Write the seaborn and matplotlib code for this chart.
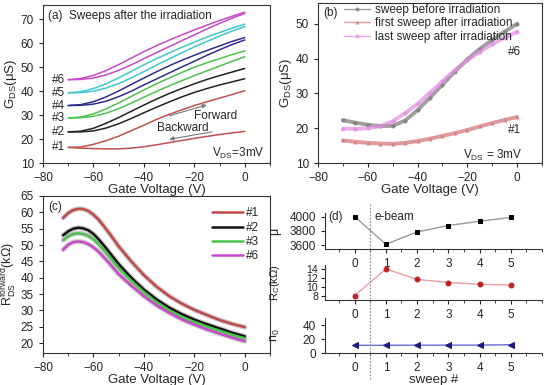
import numpy as np
import pandas as pd
import seaborn as sns
import matplotlib.pyplot as plt
from matplotlib.ticker import MultipleLocator

# ---- data ----
# (a) G_DS vs gate voltage, two sweeps per run
vg_a = [-70, -65, -60, -55, -50, -45, -40, -35, -30, -25, -20, -15, -10, -5, 0]
g1_up = [16.5, 16.7, 17.8, 19.3, 21.2, 23.5, 25.8, 28.2, 30.3, 32.2, 34.0, 35.6, 37.1, 38.6, 40.2]
g1_lo = [16.5, 16.2, 16.0, 15.9, 15.9, 16.2, 16.8, 17.6, 18.5, 19.4, 20.3, 21.1, 21.9, 22.6, 23.2]
g2_lo = [23.0, 23.0, 23.4, 24.6, 26.4, 28.6, 31.0, 33.3, 35.5, 37.6, 39.5, 41.1, 42.6, 43.9, 45.2]
g2_up = [23.0, 23.3, 24.5, 26.6, 29.0, 31.6, 34.2, 36.7, 39.0, 41.1, 43.1, 44.9, 46.5, 48.0, 49.5]
g3_lo = [28.8, 28.9, 29.5, 30.8, 32.7, 35.0, 37.5, 39.9, 42.2, 44.4, 46.5, 48.5, 50.5, 52.5, 54.4]
g3_up = [28.8, 29.2, 30.5, 32.6, 35.1, 37.8, 40.5, 43.1, 45.5, 47.8, 50.0, 51.9, 53.6, 55.3, 56.8]
g4_lo = [34.0, 34.1, 34.6, 35.8, 37.7, 40.0, 42.6, 45.1, 47.6, 50.1, 52.5, 55.0, 57.3, 59.5, 61.4]
g4_up = [34.0, 34.4, 35.6, 37.6, 40.1, 42.8, 45.5, 48.1, 50.6, 52.9, 55.0, 57.0, 58.9, 60.8, 62.4]
g5_lo = [39.3, 39.4, 40.0, 41.3, 43.2, 45.6, 48.2, 50.9, 53.5, 56.0, 58.5, 60.8, 63.0, 65.1, 67.0]
g5_up = [39.3, 39.8, 41.1, 43.1, 45.6, 48.3, 51.0, 53.6, 56.0, 58.3, 60.5, 62.6, 64.5, 66.3, 68.0]
g6_lo = [44.8, 44.9, 45.5, 46.8, 48.7, 51.0, 53.6, 56.1, 58.6, 61.1, 63.5, 66.0, 68.3, 70.5, 72.5]
g6_up = [44.8, 45.3, 46.6, 48.6, 51.1, 53.8, 56.5, 59.0, 61.3, 63.5, 65.6, 67.6, 69.5, 71.3, 73.0]
run_names = ["#1", "#2", "#3", "#4", "#5", "#6"]
run_start = [16.5, 23.0, 28.8, 34.0, 39.3, 44.8]

# (b) before / first / last sweep
vg_b = [-70, -65, -60, -55, -50, -45, -40, -35, -30, -25, -20, -15, -10, -5, 0]
g_before = [22.3, 21.6, 21.0, 20.6, 20.7, 22.2, 25.2, 28.8, 32.5, 36.3, 39.8, 42.8, 45.4, 47.8, 50.0]
g_first = [16.5, 16.1, 15.8, 15.6, 15.5, 15.8, 16.3, 17.0, 17.8, 18.6, 19.5, 20.5, 21.5, 22.4, 23.2]
g_last = [19.9, 19.8, 20.0, 20.6, 22.0, 24.3, 27.0, 30.2, 33.5, 36.7, 39.5, 42.0, 44.2, 46.0, 47.7]
b_names = ["sweep before irradiation", "first sweep after irradiation", "last sweep after irradiation"]

# (c) forward resistance
vg_c = [-72, -70, -68, -66, -64, -62, -60, -58, -56, -54, -52, -50, -45, -40, -35, -30, -25, -20, -15, -10, -5, 0]
r1 = [58.3, 59.8, 60.7, 61.1, 61.0, 60.4, 59.3, 57.8, 55.9, 53.9, 51.8, 49.6, 45.0, 40.8, 37.3, 34.4, 32.1, 30.2, 28.6, 27.1, 25.9, 24.9]
r2 = [53.0, 54.2, 55.0, 55.3, 55.1, 54.5, 53.4, 51.8, 50.0, 48.1, 46.1, 44.2, 40.0, 36.4, 33.4, 30.9, 28.9, 27.2, 25.8, 24.5, 23.2, 22.1]
r3 = [51.5, 52.7, 53.4, 53.6, 53.4, 52.8, 51.8, 50.3, 48.6, 46.8, 44.9, 43.0, 39.1, 35.6, 32.6, 30.1, 28.1, 26.5, 25.1, 23.8, 22.6, 21.5]
r6 = [48.6, 50.1, 50.9, 51.1, 50.9, 50.3, 49.3, 48.0, 46.4, 44.7, 42.9, 41.1, 37.6, 34.4, 31.6, 29.3, 27.3, 25.7, 24.2, 22.9, 21.7, 20.6]
c_names = ["#1", "#2", "#3", "#6"]

# (d) fitted parameters per sweep
sweep = [0, 1, 2, 3, 4, 5]
mobility = [4000, 3615, 3787, 3876, 3935, 3988]
r_contact = [8.0, 14.1, 11.7, 11.0, 10.6, 10.4]
n0 = [11.0, 11.0, 11.2, 11.2, 11.3, 11.8]

# ---- style ----
sns.set_style("ticks")
plt.rcParams['font.family'] = ['Liberation Sans', 'DejaVu Sans']
plt.rcParams['mathtext.default'] = 'regular'
plt.rcParams['xtick.labelsize'] = 8.5
plt.rcParams['ytick.labelsize'] = 8.5
plt.rcParams['axes.labelsize'] = 9.5
plt.rcParams['axes.edgecolor'] = '#333333'
plt.rcParams['axes.linewidth'] = 0.8
plt.rcParams['xtick.major.size'] = 3
plt.rcParams['ytick.major.size'] = 3
plt.rcParams['xtick.minor.size'] = 2

W, H = 550, 385
fig = plt.figure(figsize=(W / 100, H / 100), dpi=100)


def box(l, r, t, b):
    return [l / W, 1 - b / H, (r - l) / W, (b - t) / H]


ax_a = fig.add_axes(box(43, 270, 5, 163))
ax_b = fig.add_axes(box(318, 542, 3, 163))
ax_c = fig.add_axes(box(43, 270, 196, 353))
ax_d1 = fig.add_axes(box(325, 542, 213, 249))
ax_d2 = fig.add_axes(box(325, 542, 265, 300))
ax_d3 = fig.add_axes(box(325, 542, 318, 353))

# ---- (a) ----
a_colors = ["#c05050", "#222222", "#4cc24c", "#2e2e8a", "#40c8cc", "#c848c8"]
rows = []
for name, lo, up in zip(run_names,
                        [g1_lo, g2_lo, g3_lo, g4_lo, g5_lo, g6_lo],
                        [g1_up, g2_up, g3_up, g4_up, g5_up, g6_up]):
    for v, g in zip(vg_a, lo):
        rows.append((name, "fwd", v, g))
    for v, g in zip(vg_a, up):
        rows.append((name, "bwd", v, g))
df_a = pd.DataFrame(rows, columns=["run", "dir", "V", "G"])
sns.lineplot(data=df_a, x="V", y="G", hue="run", units="dir", estimator=None,
             palette=a_colors, linewidth=1.1, legend=False, ax=ax_a)
for name, y0 in zip(run_names, run_start):
    ax_a.text(-76.5, y0, name, fontsize=8.5, va='center', ha='left')
ax_a.text(-78, 71.5, "(a)  Sweeps after the irradiation", fontsize=8.5, va='center')
ax_a.annotate("", xy=(-14, 34.6), xytext=(-31, 29.4),
              arrowprops=dict(arrowstyle="-|>", color='#777777', lw=0.8, mutation_scale=6))
ax_a.annotate("", xy=(-31, 19.7), xytext=(-12, 23.2),
              arrowprops=dict(arrowstyle="-|>", color='#777777', lw=0.8, mutation_scale=6))
ax_a.text(-20, 29.8, "Forward", fontsize=8.5, va='center')
ax_a.text(-35, 24.8, "Backward", fontsize=8.5, va='center')
ax_a.text(-13, 14, "V$_{DS}$=3mV", fontsize=8.5, va='center')
ax_a.set_xlim(-80, 10)
ax_a.set_ylim(10, 76)
ax_a.set_xticks([-80, -60, -40, -20, 0])
ax_a.set_yticks([10, 20, 30, 40, 50, 60, 70])
ax_a.set_xlabel("Gate Voltage (V)", labelpad=0)
ax_a.set_ylabel("G$_{DS}$(μS)", labelpad=1)

# ---- (b) ----
df_b = pd.DataFrame({
    "V": vg_b * 3,
    "G": g_before + g_first + g_last,
    "sweep": [b_names[0]] * len(vg_b) + [b_names[1]] * len(vg_b) + [b_names[2]] * len(vg_b),
})
b_colors = ["#777777", "#d07070", "#e08ce0"]
sns.lineplot(data=df_b, x="V", y="G", hue="sweep", style="sweep", palette=b_colors,
             markers=["o", "^", "o"], dashes=False, linewidth=2.8, alpha=0.7,
             markersize=3, markeredgecolor='none', ax=ax_b)
handles, labels = ax_b.get_legend_handles_labels()
ax_b.legend(handles, labels, loc='upper left', bbox_to_anchor=(0.08, 1.045), frameon=False,
            fontsize=8.5, handlelength=2.2, borderpad=0.2, labelspacing=0.12, handletextpad=0.4)
for h in ax_b.get_legend().get_lines():
    h.set_linewidth(1.0)
ax_b.text(-78, 53, "(b)", fontsize=8.5, va='center')
ax_b.text(-1, 42, "#6", fontsize=8.5, ha='center', va='center')
ax_b.text(-1, 19.5, "#1", fontsize=8.5, ha='center', va='center')
ax_b.text(-10, 12.3, "V$_{DS}$ = 3mV", fontsize=8.5, ha='center', va='center')
ax_b.set_xlim(-80, 10)
ax_b.set_ylim(10, 56)
ax_b.set_xticks([-80, -60, -40, -20, 0])
ax_b.set_yticks([10, 20, 30, 40, 50])
ax_b.set_xlabel("Gate Voltage (V)", labelpad=0)
ax_b.set_ylabel("G$_{DS}$(μS)", labelpad=1)

# ---- (c) ----
df_c = pd.DataFrame({
    "V": vg_c * 4,
    "R": r1 + r2 + r3 + r6,
    "run": sum([[n] * len(vg_c) for n in c_names], []),
})
c_colors = ["#c04848", "#111111", "#4cc24c", "#c848c8"]
sns.lineplot(data=df_c, x="V", y="R", hue="run", palette=["#aaaaaa"] * 4, linewidth=3.6,
             alpha=0.6, legend=False, ax=ax_c)
sns.lineplot(data=df_c, x="V", y="R", hue="run", palette=c_colors, linewidth=1.8, ax=ax_c)
handles, labels = ax_c.get_legend_handles_labels()
ax_c.legend(handles, labels, loc='upper right', bbox_to_anchor=(0.99, 0.98), frameon=False,
            fontsize=8.5, handlelength=2.6, borderpad=0.2, labelspacing=0.2, handletextpad=0.3)
ax_c.text(-78, 61.5, "(c)", fontsize=8.5, va='center')
ax_c.set_xlim(-80, 10)
ax_c.set_ylim(17, 65)
ax_c.set_xticks([-80, -60, -40, -20, 0])
ax_c.set_yticks([20, 25, 30, 35, 40, 45, 50, 55, 60, 65])
ax_c.set_xlabel("Gate Voltage (V)", labelpad=0)
ax_c.set_ylabel("R$_{DS}^{forward}$(kΩ)", fontsize=9, labelpad=1)

for ax in (ax_a, ax_b, ax_c):
    ax.xaxis.set_minor_locator(MultipleLocator(10))
    ax.tick_params(which='both', direction='out')

# ---- (d) ----
sns.lineplot(x=sweep, y=mobility, color='#999999', linewidth=1, marker='s', markersize=3.5,
             markerfacecolor='black', markeredgecolor='black', ax=ax_d1)
sns.lineplot(x=sweep, y=r_contact, color='#e8a0a0', linewidth=1, marker='o', markersize=3.5,
             markerfacecolor='#c02020', markeredgecolor='#c02020', ax=ax_d2)
sns.lineplot(x=sweep, y=n0, color='#6a6ad8', linewidth=1, marker='<', markersize=4,
             markerfacecolor='#1a1a80', markeredgecolor='#1a1a80', ax=ax_d3)
ax_d1.set_ylim(3550, 4050)
ax_d1.set_yticks([3600, 3800, 4000])
ax_d2.set_ylim(7, 15)
ax_d2.set_yticks([8, 10, 12, 14])
ax_d3.set_ylim(0, 50)
ax_d3.set_yticks([0, 20, 40])
ax_d1.set_ylabel("μ", fontsize=9)
ax_d2.set_ylabel("R$_C$(kΩ)", fontsize=8)
ax_d3.set_ylabel("n$_0$", fontsize=9)
ax_d3.set_xlabel("sweep #", labelpad=0)
ax_d1.text(-0.85, 4000, "(d)", fontsize=8.5, va='center')
ax_d1.text(0.65, 4000, "e-beam", fontsize=8.5, va='center')
for ax in (ax_d1, ax_d2, ax_d3):
    ax.set_xlim(-0.95, 6)
    ax.set_xticks(sweep)
    ax.xaxis.set_minor_locator(MultipleLocator(0.5))
    ax.tick_params(which='both', direction='out', labelsize=8.5)
    ax.yaxis.set_label_coords(-0.2, 0.5)
    ax.patch.set_alpha(0)
    sns.despine(ax=ax)
ax_d2.tick_params(axis='y', labelsize=7.5, pad=2)
ax_d3.axvline(0.5, ymin=-0.75, ymax=(353 - 203) / 35, color='#888888', lw=0.8,
              linestyle=(0, (1.5, 1.5)), clip_on=False)

fig.savefig("out.png", dpi=100)
